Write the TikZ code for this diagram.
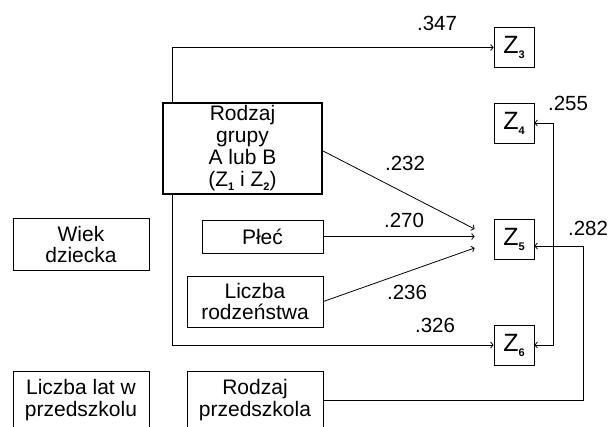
\documentclass[tikz,border=0pt]{standalone}
\usepackage{fontspec}
\setmainfont{Liberation Sans}
\usetikzlibrary{positioning,arrows.meta}

\newcommand{\zsub}[2][5pt]{Z\raisebox{-#1}{\fontsize{11}{11}\selectfont\bfseries #2}}

\tikzset{
  varbox/.style={draw, line width=0.8pt, align=center, inner sep=0pt,
    font=\fontsize{21}{21.5}\selectfont},
  zbox/.style={draw, line width=0.8pt, inner sep=0pt, minimum width=40pt,
    minimum height=40pt, font=\fontsize{25}{25}\selectfont},
  coef/.style={inner sep=0pt, font=\fontsize{20.5}{21}\selectfont},
  link/.style={line width=0.8pt}
}

\begin{document}
\begin{tikzpicture}[x=1pt,y=-1pt,>={Straight Barb[length=2.5pt,width=6pt]}]

\useasboundingbox (0,0) rectangle (611,427);

% zmienne zalezne
\node[zbox] (Z3) at (514,47.5) {\zsub{3}};
\node[zbox] (Z4) at (514,123) {\zsub{4}};
\node[zbox] (Z5) at (514,239) {\zsub{5}};
\node[zbox] (Z6) at (514,345) {\zsub{6}};

% predyktory
\node[varbox, line width=2.2pt, minimum width=159pt, minimum height=91pt,
  font=\fontsize{21}{22}\selectfont] (grupa) at (242.5,148.5)
  {Rodzaj\\grupy\\A lub B\\(\zsub[4pt]{1} i \zsub[4pt]{2})};
\node[varbox, minimum width=121pt, minimum height=33pt] (plec) at (262.5,236.5) {Płeć};
\node[varbox, minimum width=136pt, minimum height=51pt] (rodzenstwo) at (255,301.5) {Liczba\\rodzeństwa};
\node[varbox, minimum width=136pt, minimum height=52pt] (wiek) at (81,244.5) {Wiek\\dziecka};
\node[varbox, minimum width=136pt, minimum height=58pt] (lata) at (81,400) {Liczba lat w\\przedszkolu};
\node[varbox, minimum width=136pt, minimum height=58pt] (przedszkole) at (255,400) {Rodzaj\\przedszkola};

% sciezki
\coordinate (in5) at ([xshift=-19pt]Z5.west);
\coordinate (k5) at ([yshift=-7pt]Z5.east);
\coordinate (r4) at ([xshift=19pt]Z5.east);

\draw[link,->] ([xshift=-70.5pt]grupa.north) |- (Z3);
\draw[link,->] ([xshift=-70.5pt]grupa.south) |- (Z6);
\draw[link,->] ([yshift=-2.5pt]grupa.east) -- ([yshift=10pt]in5);
\draw[link,->] (plec.east) -- (plec.east -| in5);
\draw[link,->] (rodzenstwo.east) -- ([yshift=-9pt]in5);
\draw[link,<->] (Z4) -| (r4) |- (Z6);
\draw[link,->] (przedszkole.east) -| ([xshift=49pt]k5) -- (k5);

% wspolczynniki
\node[coef] (c347) at (437,23) {.347};
\node[coef] (c232) at (405,163) {.232};
\node[coef] (c270) at (404,220) {.270};
\node[coef] (c236) at (407,292) {.236};
\node[coef] (c326) at (435,325) {.326};
\node[coef] (c255) at (568,103) {.255};
\node[coef] (c282) at (588,228) {.282};

\end{tikzpicture}
\end{document}
